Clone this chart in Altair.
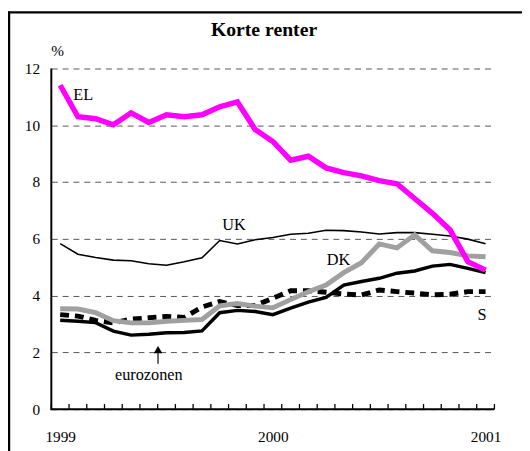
import altair as alt
import pandas as pd

# ---- data (monthly, Jan 1999 .. Jan 2001) ----
months = ["1999-01", "1999-02", "1999-03", "1999-04", "1999-05", "1999-06",
          "1999-07", "1999-08", "1999-09", "1999-10", "1999-11", "1999-12",
          "2000-01", "2000-02", "2000-03", "2000-04", "2000-05", "2000-06",
          "2000-07", "2000-08", "2000-09", "2000-10", "2000-11", "2000-12",
          "2001-01"]

EL = [11.41, 10.30, 10.23, 10.02, 10.44, 10.10, 10.37, 10.30, 10.37, 10.65,
      10.82, 9.85, 9.43, 8.77, 8.91, 8.50, 8.33, 8.22, 8.05, 7.94,
      7.42, 6.90, 6.31, 5.20, 4.90]
UK = [5.83, 5.46, 5.34, 5.25, 5.23, 5.12, 5.07, 5.19, 5.33, 5.94,
      5.82, 5.97, 6.05, 6.16, 6.20, 6.30, 6.29, 6.24, 6.17, 6.22,
      6.22, 6.16, 6.10, 5.99, 5.83]
DK = [3.54, 3.53, 3.40, 3.12, 3.04, 3.04, 3.10, 3.13, 3.16, 3.64,
      3.72, 3.63, 3.57, 3.86, 4.14, 4.37, 4.81, 5.16, 5.82, 5.68,
      6.14, 5.58, 5.52, 5.40, 5.37]
EURO = [3.13, 3.10, 3.05, 2.75, 2.61, 2.64, 2.69, 2.70, 2.76, 3.40,
        3.48, 3.44, 3.33, 3.56, 3.77, 3.94, 4.37, 4.50, 4.61, 4.79,
        4.87, 5.04, 5.10, 4.96, 4.81]
S = [3.33, 3.28, 3.13, 3.04, 3.17, 3.22, 3.27, 3.23, 3.60, 3.79,
     3.65, 3.65, 3.91, 4.17, 4.17, 4.12, 4.06, 4.02, 4.20, 4.14,
     4.09, 4.03, 4.05, 4.14, 4.14]

year_labels = ["1999", "2000", "2001"]
year_pos = [0, 12, 24]
y_ticks = [0, 2, 4, 6, 8, 10, 12]
title_text = "Korte renter"

# annotation labels (text, month index, value)
ann_text = ["EL", "UK", "DK", "S", "eurozonen"]
ann_x = [1.3, 9.8, 15.7, 23.8, 5.0]
ann_y = [11.08, 6.5, 5.27, 3.3, 1.21]

FONT = "Times New Roman"

idx = list(range(len(months)))
x_lo, x_hi = -0.5, len(months) - 0.5
y_lo, y_hi = y_ticks[0], y_ticks[-1]


def series_df(vals):
    return pd.DataFrame({"i": idx, "month": months, "v": vals})


xs = alt.Scale(domain=[x_lo, x_hi], nice=False, zero=False)
ys = alt.Scale(domain=[y_lo, y_hi], nice=False)

label_expr = " : ".join(
    f"datum.value == {p} ? '{l}'" for p, l in zip(year_pos[:-1], year_labels[:-1])
) + f" : '{year_labels[-1]}'"

x_axis = alt.Axis(values=year_pos, labelExpr=label_expr, grid=False, ticks=False,
                  domain=False, labelFont=FONT,
                  labelFontSize=15.5, labelColor="black", labelPadding=21,
                  title=None)
y_axis = alt.Axis(values=y_ticks, grid=True, gridDash=[6, 5], gridColor="#555555",
                  gridWidth=1, ticks=False, domain=False,
                  labelFont=FONT, labelFontSize=15.5, labelColor="black",
                  labelPadding=12, title="%", titleAngle=0, titleFont=FONT,
                  titleFontSize=15.5, titleFontWeight="normal", titleColor="black",
                  titleAlign="center", titleBaseline="bottom", titleX=6,
                  titleY=-10)


def line(vals, color, width, dash=None):
    kw = dict(color=color, strokeWidth=width, strokeJoin="miter", strokeCap="butt")
    if dash:
        kw["strokeDash"] = dash
    return alt.Chart(series_df(vals)).mark_line(**kw).encode(
        x=alt.X("i:Q", scale=xs, axis=x_axis),
        y=alt.Y("v:Q", scale=ys, axis=y_axis),
    )


base = line(UK, "black", 1.6)
s_line = line(S, "black", 5, [9, 6])
dk_line = line(DK, "#A0A0A0", 5)
eu_line = line(EURO, "black", 3.5)
el_line = line(EL, "#FF00FF", 5.5)

# axis lines drawn as one L-shaped path: top of y axis -> origin -> end of x axis
axis_path = pd.DataFrame({"k": [0, 1, 2], "ax": [x_lo, x_lo, x_hi], "ay": [y_hi, y_lo, y_lo]})
axis_lines = alt.Chart(axis_path).mark_line(color="black", strokeWidth=2,
                                            strokeJoin="miter").encode(
    x=alt.X("ax:Q", scale=xs), y=alt.Y("ay:Q", scale=ys), order="k:Q")

# inward minor ticks at month boundaries (short, from the axis up)
bounds = [b - 0.5 for b in range(len(months) + 1)]
tick_df = pd.DataFrame({"b": bounds, "lo": [0.0] * len(bounds), "hi": [0.18] * len(bounds)})
ticks = alt.Chart(tick_df).mark_rule(color="black", strokeWidth=1.3).encode(
    x=alt.X("b:Q", scale=xs),
    y=alt.Y("lo:Q", scale=ys), y2="hi:Q",
)

ann = alt.Chart(pd.DataFrame({"t": ann_text, "x": ann_x, "y": ann_y})).mark_text(
    font=FONT, fontSize=16.5, color="black", align="center", baseline="middle"
).encode(x=alt.X("x:Q", scale=xs), y=alt.Y("y:Q", scale=ys), text="t:N")

# arrow pointing at the eurozone line
arrow_df = pd.DataFrame({"x": [5.52], "y0": [1.6], "y1": [2.05], "tip": [2.1]})
arrow_shaft = alt.Chart(arrow_df).mark_rule(color="black", strokeWidth=1.2).encode(
    x=alt.X("x:Q", scale=xs), y=alt.Y("y0:Q", scale=ys), y2="y1:Q")
arrow_head = alt.Chart(arrow_df).mark_point(shape="triangle-up", filled=True, color="black",
                                            size=75, opacity=1).encode(
    x=alt.X("x:Q", scale=xs), y=alt.Y("tip:Q", scale=ys))

one = pd.DataFrame({"a": [0]})

# chart title
title = alt.Chart(pd.DataFrame({"t": [title_text]})).mark_text(
    font=FONT, fontSize=20, fontWeight="bold", color="black", align="center",
    baseline="alphabetic").encode(x=alt.value(216), y=alt.value(-33), text="t:N")

# outer frame of the figure
frame_top = alt.Chart(one).mark_rule(color="black", strokeWidth=2.5).encode(
    x=alt.value(-44), x2=alt.value(480), y=alt.value(-57))
frame_left = alt.Chart(one).mark_rule(color="black", strokeWidth=2.5).encode(
    x=alt.value(-43), y=alt.value(-58), y2=alt.value(390))

chart = alt.layer(
    base, s_line, dk_line, eu_line, el_line, axis_lines, ticks, ann,
    arrow_shaft, arrow_head, title, frame_top, frame_left,
).properties(
    width=450, height=346,
    autosize=alt.AutoSizeParams(type="none"),
    padding={"left": 44, "top": 58, "right": 28, "bottom": 39},
).configure_view(stroke=None)

chart.save("out.html", embed_options={"renderer": "svg", "actions": False})
